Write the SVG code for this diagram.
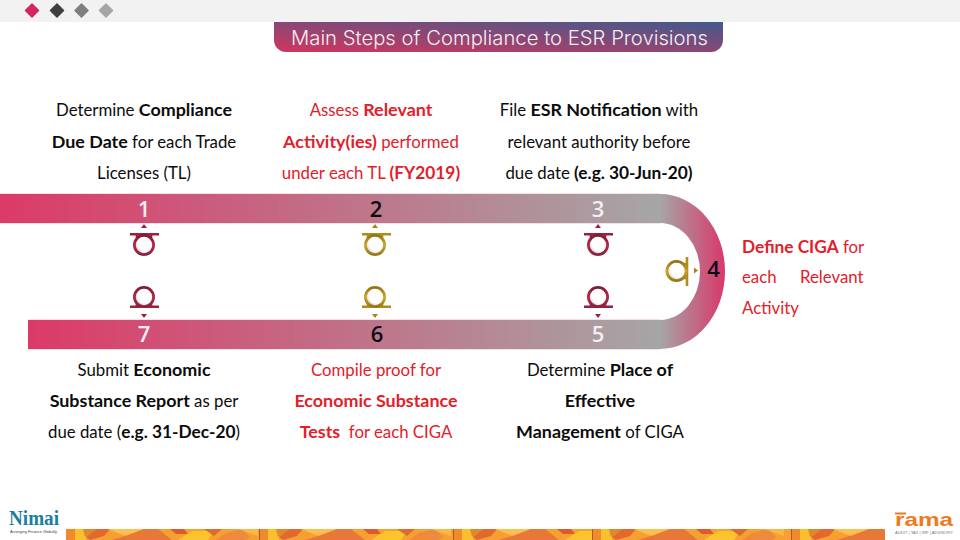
<svg xmlns="http://www.w3.org/2000/svg" width="960" height="540" viewBox="0 0 960 540">
<style>
.t{font-family:"Lato","Noto Sans",sans-serif;font-size:16.800px;fill:#0c0c0c;text-anchor:middle;white-space:pre}
.r{fill:#e3202a}
.l{font-family:"Lato","Noto Sans",sans-serif;font-size:16.800px;fill:#e3202a}
.b{font-weight:700;font-size:17.900px}
.s{font-size:17.300px}
.n{font-family:"Open Sans","Noto Sans",sans-serif;font-size:22px;font-weight:600;text-anchor:middle}
.w{fill:#f4eef2}.k{fill:#0a0a14}
.ring{stroke-width:2.800;fill:url(#shade)}
.bar{stroke-width:2.600;fill:none}
.red{stroke:#9c2140}.gold{stroke:#b08c1c}
.ring.red{stroke:url(#rr)}.ring.gold{stroke:url(#rg)}
.redf{fill:#9c2140}.goldf{fill:#a8841a}
.edge{stroke:#f6dfe6;stroke-width:1;fill:none}
</style>
<defs>
<linearGradient id="title" x1="0" y1="1" x2="1" y2="0"><stop offset="0" stop-color="#d2355f"/><stop offset="1" stop-color="#415a8c"/></linearGradient>
<linearGradient id="bt" gradientUnits="userSpaceOnUse" x1="0" y1="0" x2="660" y2="0"><stop offset="0" stop-color="#dc3a68"/><stop offset="1" stop-color="#a6a6a6"/></linearGradient>
<linearGradient id="bb" gradientUnits="userSpaceOnUse" x1="28" y1="0" x2="660" y2="0"><stop offset="0" stop-color="#dc3a68"/><stop offset="1" stop-color="#a6a6a6"/></linearGradient>
<linearGradient id="arc" gradientUnits="userSpaceOnUse" x1="660" y1="0" x2="725" y2="0"><stop offset="0" stop-color="#a6a6a6"/><stop offset="1" stop-color="#d8386a"/></linearGradient>
<linearGradient id="rr" x1="0" y1="0" x2="0" y2="1"><stop offset="0" stop-color="#7e1c36"/><stop offset="0.5" stop-color="#b52a4c"/><stop offset="1" stop-color="#8c2040"/></linearGradient>
<linearGradient id="rg" x1="0" y1="0" x2="0" y2="1"><stop offset="0" stop-color="#94741a"/><stop offset="0.5" stop-color="#cfa826"/><stop offset="1" stop-color="#98781a"/></linearGradient>
<radialGradient id="shade" cx="0.62" cy="0.38" r="0.72"><stop offset="0.6" stop-color="#fff"/><stop offset="1" stop-color="#bdbdbd"/></radialGradient>
<clipPath id="stripclip"><rect x="66" y="529" width="819" height="11"/></clipPath>
<g id="strippat">
<rect width="199" height="11" fill="#f5a030"/>
<rect width="10" height="11" fill="#f08a2a"/>
<polygon points="9,0 20,0 20,11 9,11" fill="#fbbf2c"/>
<polygon points="17,0 32,0 19,8" fill="#dd8a2e"/>
<polygon points="31,0 44,0 38,7 24,11 20,8" fill="#e2682e"/>
<polygon points="42,0 80,0 62,8" fill="#fbc050"/>
<polygon points="46,11 62,6 78,0 92,0 106,11" fill="#e87838"/>
<polygon points="104,0 118,0 122,5 110,5" fill="#dc5a2c"/>
<polygon points="112,11 126,2 148,2 142,11" fill="#fcc42c"/>
<polygon points="138,0 156,0 148,7" fill="#e06a2e"/>
<polygon points="150,11 160,4 176,0 184,8 180,11" fill="#ef8a3c"/>
<polygon points="172,0 192,0 192,7" fill="#fbb848"/>
</g>
</defs>
<rect width="960" height="540" fill="#fff"/>
<g id="top-bar">
<rect width="960" height="22" fill="#f2f2f2"/>
<g stroke-linejoin="round" stroke-width="1.500">
<polygon points="32,4 38.500,10.500 32,17 25.500,10.500" fill="#d0275f" stroke="#d0275f"/>
<polygon points="57,4 63.500,10.500 57,17 50.500,10.500" fill="#404040" stroke="#404040"/>
<polygon points="81.500,4 88,10.500 81.500,17 75,10.500" fill="#7f7f7f" stroke="#7f7f7f"/>
<polygon points="106,4 112.500,10.500 106,17 99.500,10.500" fill="#a6a6a6" stroke="#a6a6a6"/>
</g>
</g>
<g id="title-node">
<path d="M274 22H723V40A12 12 0 0 1 711 52H286A12 12 0 0 1 274 40Z" fill="url(#title)"/>
<text x="291" y="44.500" font-family="Inter,'DejaVu Sans',sans-serif" font-weight="300" font-size="19.500" fill="#f6eef2" textLength="417" lengthAdjust="spacingAndGlyphs">Main Steps of Compliance to ESR Provisions</text>
</g>
<g id="connectors">
<rect x="0" y="194" width="660.500" height="29" fill="url(#bt)"/>
<rect x="28" y="320" width="632.500" height="29" fill="url(#bb)"/>
<path d="M660 194A65 77.500 0 0 1 660 349V320A40 48.500 0 0 0 660 223Z" fill="url(#arc)"/>
<path class="edge" d="M0 193.500H660M0 223.500H660M28 319.500H660M28 349.500H660"/>
</g>
<g id="node-1">
<text class="t"><tspan x="144" y="116">Determine <tspan class="b">Compliance</tspan></tspan><tspan x="144" y="148"><tspan class="b">Due Date</tspan> for each Trade</tspan><tspan x="144" y="179">Licenses (TL)</tspan></text>
<text class="n w" x="144" y="216.500">1</text>
<polygon class="redf" points="144,224 147,228 141,228"/>
<path class="bar red" d="M130 234.300H159M137 235V238M151 235V238"/>
<circle class="ring red" cx="144" cy="245" r="9.600"/>
</g>
<g id="node-2">
<text class="t r"><tspan x="371" y="116">Assess <tspan class="b">Relevant</tspan></tspan><tspan x="371" y="148"><tspan class="b">Activity(ies)</tspan> performed</tspan><tspan x="371" y="179">under each TL <tspan class="b s">(FY2019)</tspan></tspan></text>
<text class="n k" x="376" y="216.500">2</text>
<polygon class="goldf" points="375,224 378,228 372,228"/>
<path class="bar gold" d="M362 234.300H391M368 235V238M382 235V238"/>
<circle class="ring gold" cx="375" cy="245" r="9.600"/>
</g>
<g id="node-3">
<text class="t"><tspan x="599" y="116">File <tspan class="b">ESR Notification</tspan> with</tspan><tspan x="599" y="148">relevant authority before</tspan><tspan x="599" y="179">due date <tspan class="b s">(e.g. 30-Jun-20)</tspan></tspan></text>
<text class="n w" x="598" y="216.500">3</text>
<polygon class="redf" points="598,224 601,228 595,228"/>
<path class="bar red" d="M584 234.300H613M591 235V238M605 235V238"/>
<circle class="ring red" cx="598" cy="245" r="9.600"/>
</g>
<g id="node-4">
<text class="l"><tspan x="742" y="253"><tspan class="b s">Define CIGA</tspan> for</tspan><tspan x="742" y="283">each</tspan><tspan x="800" y="283">Relevant</tspan><tspan x="742" y="314">Activity</tspan></text>
<text class="n k" x="713.500" y="277">4</text>
<polygon class="goldf" points="698,270.500 694,267.500 694,273.500"/>
<path class="bar gold" d="M687 257V286M686 264H683M686 278H683"/>
<circle class="ring gold" cx="676.500" cy="271" r="9.600"/>
</g>
<g id="node-5">
<text class="t"><tspan x="600" y="376">Determine <tspan class="b">Place of</tspan></tspan><tspan x="600" y="407" class="b">Effective</tspan><tspan x="600" y="438"><tspan class="b">Management</tspan> of CIGA</tspan></text>
<text class="n w" x="598" y="342">5</text>
<polygon class="redf" points="598,318 601,314 595,314"/>
<path class="bar red" d="M584 306.700H613M591 306V303M605 306V303"/>
<circle class="ring red" cx="598" cy="297" r="9.600"/>
</g>
<g id="node-6">
<text class="t r"><tspan x="376" y="376">Compile proof for</tspan><tspan x="376" y="407" class="b">Economic Substance</tspan><tspan x="376" y="438"><tspan class="b">Tests</tspan>  for each CIGA</tspan></text>
<text class="n k" x="377" y="342">6</text>
<polygon class="goldf" points="375,318 378,314 372,314"/>
<path class="bar gold" d="M362 306.700H391M368 306V303M382 306V303"/>
<circle class="ring gold" cx="375" cy="297" r="9.600"/>
</g>
<g id="node-7">
<text class="t"><tspan x="144" y="376">Submit <tspan class="b">Economic</tspan></tspan><tspan x="144" y="407"><tspan class="b">Substance Report</tspan> as per</tspan><tspan x="144" y="438">due date (<tspan class="b s">e.g. 31-Dec-20</tspan>)</tspan></text>
<text class="n w" x="144" y="342">7</text>
<polygon class="redf" points="144,318 147,314 141,314"/>
<path class="bar red" d="M130 306.700H159M137 306V303M151 306V303"/>
<circle class="ring red" cx="144" cy="297" r="9.600"/>
</g>
<g id="footer">
<g clip-path="url(#stripclip)">
<use href="#strippat" x="66" y="529"/><use href="#strippat" x="259" y="529"/><use href="#strippat" x="453" y="529"/><use href="#strippat" x="592" y="529"/><use href="#strippat" x="791" y="529"/>
<path d="M259.500 529V540M453.500 529V540M592.500 529V540M791.500 529V540" stroke="#b05a20" stroke-width="1" fill="none"/>
</g>
<text x="9" y="525" font-family="'Liberation Serif',serif" font-weight="700" font-size="20" fill="#1a7f9c" textLength="50" lengthAdjust="spacingAndGlyphs">Nimai</text>
<text x="10" y="532.500" font-family="'Liberation Sans',sans-serif" font-size="3.200" fill="#444" textLength="47" lengthAdjust="spacingAndGlyphs">Arranging Finance Globally</text>
<path d="M895 513.500H906" stroke="#ee7a1c" stroke-width="2" fill="none"/>
<text x="895" y="526" font-family="'Liberation Sans',sans-serif" font-weight="700" font-size="19" fill="#ee7a1c" textLength="58" lengthAdjust="spacingAndGlyphs">rama</text>
<text x="895" y="534" font-family="'Liberation Sans',sans-serif" font-size="3.800" fill="#777" textLength="58" lengthAdjust="spacingAndGlyphs">AUDIT | TAX | IRP | ADVISORY</text>
</g>
</svg>
